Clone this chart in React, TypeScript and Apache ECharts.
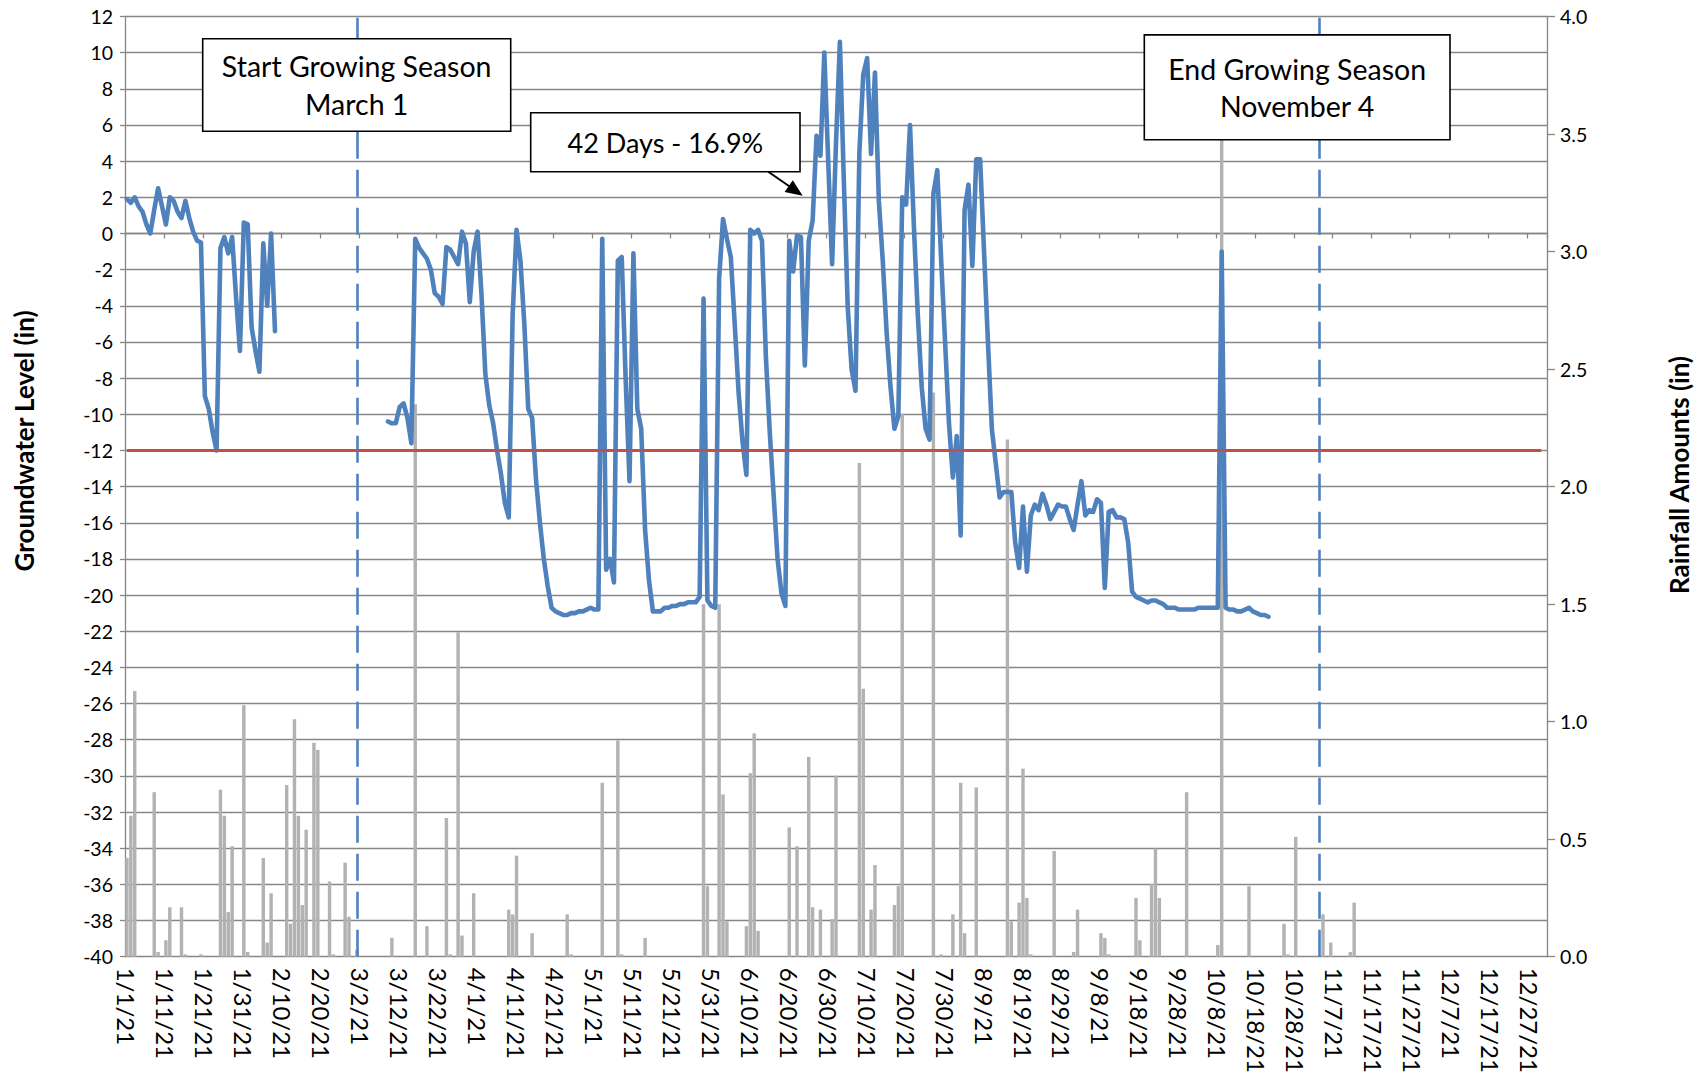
import React, { useEffect, useRef } from "react";
import * as echarts from "echarts";

const FONT = 'Lato, "Open Sans", sans-serif';

// ---- categories: every day of 2021 (M/D/YY) ----
const dates: string[] = [];
for (let i = 0; i < 365; i++) {
  const d = new Date(Date.UTC(2021, 0, 1 + i));
  dates.push(`${d.getUTCMonth() + 1}/${d.getUTCDate()}/21`);
}

// ---- groundwater level (in), two logged periods ----
const winterStart = "1/1/21";
const winterLevels = [
  1.9, 1.7, 2.0, 1.5, 1.2, 0.5, 0.0, 1.3, 2.5, 1.5, 0.5, 2.0, 1.8, 1.2, 0.85, 1.8, 0.85, 0.1, -0.4, -0.5,
  -9.0, -9.7, -11.0, -12.0, -0.8, -0.2, -1.1, -0.2, -3.5, -6.5, 0.6, 0.5, -5.2, -6.5, -7.65, -0.55, -4.0, 0.0, -5.4,
];

const seasonStart = "3/9/21";
const seasonLevels = [
  -10.4, -10.5, -10.5, -9.6, -9.4, -10.2, -11.6, -0.3, -0.8, -1.1, -1.4, -2.0, -3.3, -3.5, -3.9, -0.75, -0.9, -1.3, -1.7, 0.1,
  -0.55, -3.8, -1.0, 0.1, -3.35, -7.8, -9.5, -10.5, -12.0, -13.3, -14.9, -15.7, -4.5, 0.2, -1.5, -5.0, -9.7, -10.2, -13.6, -16.0,
  -18.0, -19.5, -20.7, -20.9, -21.0, -21.1, -21.1, -21.0, -21.0, -20.9, -20.9, -20.8, -20.7, -20.8, -20.8, -0.3, -18.6, -18.0, -19.3, -1.5,
  -1.3, -8.0, -13.7, -1.1, -9.7, -10.8, -16.4, -19.2, -20.9, -20.9, -20.9, -20.7, -20.7, -20.6, -20.6, -20.5, -20.5, -20.4, -20.4, -20.4,
  -20.1, -3.6, -20.3, -20.6, -20.7, -2.5, 0.8, -0.3, -1.3, -5.0, -8.8, -11.5, -13.35, 0.2, 0.0, 0.2, -0.4, -6.8, -11.0, -14.5,
  -18.0, -19.9, -20.6, -0.4, -2.1, -0.1, -0.2, -7.3, -0.4, 0.7, 5.4, 4.3, 10.0, 4.0, -1.7, 5.0, 10.6, 3.0, -4.0, -7.5,
  -8.7, 4.5, 8.8, 9.7, 4.4, 8.9, 1.8, -1.5, -5.5, -8.5, -10.8, -10.1, 2.0, 1.6, 6.0, 0.35, -4.5, -8.5, -10.8, -11.4,
  2.2, 3.5, -1.5, -6.0, -10.5, -13.5, -11.2, -16.7, 1.3, 2.7, -1.8, 4.1, 4.1, -1.0, -6.0, -10.8, -12.7, -14.6, -14.3, -14.3,
  -14.3, -17.1, -18.5, -15.1, -18.7, -15.6, -15.0, -15.3, -14.4, -15.0, -15.8, -15.4, -15.0, -15.1, -15.1, -15.8, -16.4, -15.0, -13.7, -15.6,
  -15.3, -15.4, -14.7, -14.9, -19.6, -15.4, -15.3, -15.7, -15.7, -15.8, -17.1, -19.8, -20.1, -20.2, -20.3, -20.4, -20.3, -20.3, -20.4, -20.5,
  -20.7, -20.7, -20.7, -20.8, -20.8, -20.8, -20.8, -20.8, -20.7, -20.7, -20.7, -20.7, -20.7, -20.7, -1.0, -20.7, -20.8, -20.8, -20.9, -20.9,
  -20.8, -20.7, -20.9, -21.0, -21.1, -21.1, -21.2,
];

// ---- rainfall (in) ----
const rainfall: [string, number][] = [
  ["1/1/21", 0.42], ["1/2/21", 0.6], ["1/3/21", 1.13], ["1/8/21", 0.7], ["1/9/21", 0.02], ["1/11/21", 0.07],
  ["1/12/21", 0.21], ["1/15/21", 0.21], ["1/16/21", 0.01], ["1/20/21", 0.01], ["1/25/21", 0.71], ["1/26/21", 0.6],
  ["1/27/21", 0.19], ["1/28/21", 0.47], ["1/31/21", 1.07], ["2/1/21", 0.02], ["2/5/21", 0.42], ["2/6/21", 0.06],
  ["2/7/21", 0.27], ["2/11/21", 0.73], ["2/12/21", 0.14], ["2/13/21", 1.01], ["2/14/21", 0.6], ["2/15/21", 0.22],
  ["2/16/21", 0.54], ["2/18/21", 0.91], ["2/19/21", 0.88], ["2/22/21", 0.32], ["2/23/21", 0.01], ["2/26/21", 0.4],
  ["2/27/21", 0.17], ["3/1/21", 0.03], ["3/10/21", 0.08], ["3/16/21", 2.35], ["3/19/21", 0.13], ["3/24/21", 0.59],
  ["3/25/21", 0.01], ["3/27/21", 1.38], ["3/28/21", 0.09], ["3/31/21", 0.27], ["4/9/21", 0.2], ["4/10/21", 0.18],
  ["4/11/21", 0.43], ["4/15/21", 0.1], ["4/24/21", 0.18], ["4/25/21", 0.01], ["5/3/21", 0.74], ["5/7/21", 0.92],
  ["5/8/21", 0.01], ["5/14/21", 0.08], ["5/29/21", 1.5], ["5/30/21", 0.3], ["6/2/21", 1.5], ["6/3/21", 0.69],
  ["6/4/21", 0.15], ["6/9/21", 0.13], ["6/10/21", 0.78], ["6/11/21", 0.95], ["6/12/21", 0.11], ["6/20/21", 0.55],
  ["6/22/21", 0.47], ["6/25/21", 0.85], ["6/26/21", 0.21], ["6/28/21", 0.2], ["7/1/21", 0.16], ["7/2/21", 0.77],
  ["7/8/21", 2.1], ["7/9/21", 1.14], ["7/11/21", 0.2], ["7/12/21", 0.39], ["7/17/21", 0.22], ["7/18/21", 0.3],
  ["7/19/21", 2.31], ["7/27/21", 2.4], ["7/29/21", 0.01], ["8/1/21", 0.18], ["8/3/21", 0.74], ["8/4/21", 0.1],
  ["8/7/21", 0.72], ["8/15/21", 2.2], ["8/16/21", 0.15], ["8/18/21", 0.23], ["8/19/21", 0.8], ["8/20/21", 0.25],
  ["8/21/21", 0.01], ["8/27/21", 0.45], ["9/1/21", 0.02], ["9/2/21", 0.2], ["9/8/21", 0.1], ["9/9/21", 0.08],
  ["9/10/21", 0.01], ["9/17/21", 0.25], ["9/18/21", 0.07], ["9/21/21", 0.31], ["9/22/21", 0.46], ["9/23/21", 0.25],
  ["9/30/21", 0.7], ["10/8/21", 0.05], ["10/9/21", 3.55], ["10/16/21", 0.3], ["10/25/21", 0.14], ["10/26/21", 0.01],
  ["10/28/21", 0.51], ["11/4/21", 0.18], ["11/6/21", 0.06], ["11/11/21", 0.02], ["11/12/21", 0.23],
];

const threshold = -12;
const thresholdFrom = "1/1/21";
const thresholdTo = "12/30/21";
const seasonStartMark = "3/1/21";
const seasonEndMark = "11/3/21";

const leftTitle = "Groundwater Level (in)";
const rightTitle = "Rainfall Amounts (in)";

function buildLevels(): (number | null)[] {
  const out: (number | null)[] = dates.map(() => null);
  const put = (start: string, vals: number[]) => {
    const s = dates.indexOf(start);
    vals.forEach((v, i) => (out[s + i] = v));
  };
  put(winterStart, winterLevels);
  put(seasonStart, seasonLevels);
  return out;
}

function buildRain(): (number | null)[] {
  const out: (number | null)[] = dates.map(() => null);
  rainfall.forEach(([d, v]) => (out[dates.indexOf(d)] = v));
  return out;
}

function box(x: number, y: number, w: number, h: number, text: string, lh: number, size: number) {
  return {
    type: "group",
    z: 100,
    children: [
      {
        type: "rect",
        z: 100,
        shape: { x, y, width: w, height: h },
        style: { fill: "#ffffff", stroke: "#000000", lineWidth: 1.6 },
      },
      {
        type: "text",
        z: 101,
        x: x + w / 2,
        y: y + h / 2,
        style: {
          text,
          font: `${size}px ${FONT}`,
          fill: "#000",
          textAlign: "center",
          textVerticalAlign: "middle",
          align: "center",
          verticalAlign: "middle",
          lineHeight: lh,
        },
      },
    ],
  };
}

function title(text: string, x: number, y: number) {
  return {
    type: "text",
    z: 100,
    x,
    y,
    rotation: Math.PI / 2,
    style: {
      text,
      font: `bold 26px ${FONT}`,
      fill: "#000",
      textAlign: "center",
      textVerticalAlign: "middle",
      align: "center",
      verticalAlign: "middle",
    },
  };
}

export default function App() {
  const ref = useRef<HTMLDivElement>(null);
  useEffect(() => {
    const chart = echarts.init(ref.current!, null, { renderer: "svg" });
    const axisGray = "#868686";
    const option: any = {
      animation: false,
      backgroundColor: "#ffffff",
      grid: { left: 125, right: 155, top: 16.5, bottom: 127.3, containLabel: false },
      xAxis: {
        type: "category",
        data: dates,
        boundaryGap: true,
        axisLine: { show: true, lineStyle: { color: axisGray, width: 1.3 } },
        axisTick: { show: true, interval: 9, length: 5, lineStyle: { color: axisGray, width: 1.3 } },
        axisLabel: {
          interval: 9,
          rotate: -90,
          margin: 11,
          fontFamily: FONT,
          fontSize: 24,
          color: "#000",
        },
        splitLine: { show: false },
      },
      yAxis: [
        {
          type: "value",
          min: -40,
          max: 12,
          interval: 2,
          axisLine: { show: true, lineStyle: { color: axisGray, width: 1.3 } },
          axisTick: { show: true, length: 5, lineStyle: { color: axisGray, width: 1.3 } },
          axisLabel: { margin: 12, fontFamily: FONT, fontSize: 19.5, color: "#000" },
          splitLine: { show: true, lineStyle: { color: "#878787", width: 1.3 } },
        },
        {
          type: "value",
          min: 0,
          max: 4,
          interval: 0.5,
          position: "right",
          axisLine: { show: true, lineStyle: { color: axisGray, width: 1.3 } },
          axisTick: { show: true, length: 8, lineStyle: { color: axisGray, width: 1.3 } },
          axisLabel: {
            margin: 13,
            fontFamily: FONT,
            fontSize: 19.5,
            color: "#000",
            formatter: (v: number) => v.toFixed(1),
          },
          splitLine: { show: false },
        },
      ],
      series: [
        {
          name: "Rainfall",
          type: "bar",
          yAxisIndex: 1,
          data: buildRain(),
          barCategoryGap: "12%",
          itemStyle: { color: "#B2B2B2" },
          z: 1,
        },
        {
          name: "Groundwater",
          type: "line",
          yAxisIndex: 0,
          data: buildLevels(),
          connectNulls: false,
          showSymbol: false,
          symbol: "none",
          lineStyle: { color: "#4F81BD", width: 4.6, join: "round", cap: "round" },
          z: 3,
          markLine: {
            silent: true,
            symbol: "none",
            label: { show: false },
            lineStyle: { color: "#4F81BD", width: 2.6, type: [27, 11] },
            data: [{ xAxis: seasonStartMark }, { xAxis: seasonEndMark }],
          },
        },
        {
          name: "Threshold",
          type: "line",
          yAxisIndex: 0,
          data: [],
          z: 2,
          markLine: {
            silent: true,
            symbol: "none",
            label: { show: false },
            lineStyle: { color: "#C0504D", width: 3.2, type: "solid" },
            data: [[{ coord: [thresholdFrom, threshold] }, { coord: [thresholdTo, threshold] }]],
          },
        },
      ],
      graphic: [
        box(202.7, 38.7, 308, 92.6, "Start Growing Season\nMarch 1", 38, 28.5),
        box(530.7, 112.8, 269.3, 58.9, "42 Days - 16.9%", 34, 27),
        box(1144.3, 34.9, 305.7, 104.8, "End Growing Season\nNovember 4", 37, 28.5),
        {
          type: "line",
          z: 100,
          shape: { x1: 768.3, y1: 171.7, x2: 790, y2: 186.8 },
          style: { stroke: "#000", lineWidth: 2 },
        },
        {
          type: "polygon",
          z: 100,
          shape: { points: [[802.7, 195.7], [784.6, 192.0], [792.8, 180.3]] },
          style: { fill: "#000" },
        },
        title(leftTitle, 24, 441),
        title(rightTitle, 1679, 475),
      ],
    };
    chart.setOption(option);
    return () => chart.dispose();
  }, []);
  return (
    <div
      ref={ref}
      style={{ position: "absolute", left: 0, top: 0, width: 1702, height: 1084, background: "#fff" }}
    />
  );
}
